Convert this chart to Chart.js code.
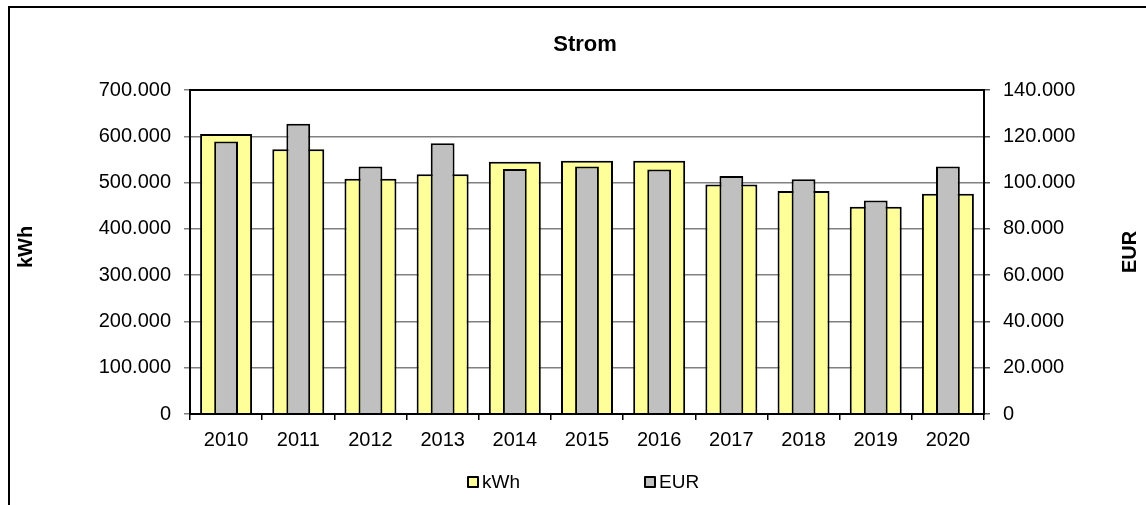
<!DOCTYPE html>
<html>
<head>
<meta charset="utf-8">
<script src="https://cdn.jsdelivr.net/npm/chart.js@4.4.1/dist/chart.umd.min.js"></script>
<style>
  body { margin: 0; background: #fff; }
  #wrap { position: relative; width: 1146px; height: 505px; overflow: hidden; }
  #frame { position: absolute; left: 8px; top: 6px; width: 1300px; height: 700px; border-top: 2px solid #000; border-left: 2px solid #000; }
  #stromChart { position: absolute; left: 0; top: 0; }
  #legend { position: absolute; left: 467px; top: 472px; display: flex; font-family: "Liberation Sans", Arial, sans-serif; font-size: 19px; color: #000; }
  .legend-item { display: flex; align-items: center; width: 177px; }
  .legend-box { box-sizing: border-box; width: 12px; height: 12px; border: 2px solid #000; border-radius: 1px; }
  .legend-text { margin-left: 3px; line-height: 20px; }
</style>
</head>
<body>
<div id="wrap">
  <div id="frame"></div>
  <canvas id="stromChart" width="1146" height="505"></canvas>
  <div id="legend"></div>
</div>
<script>
const years = ['2010', '2011', '2012', '2013', '2014', '2015', '2016', '2017', '2018', '2019', '2020'];
const kwhValues = [605000, 572000, 508000, 518000, 545000, 547000, 547000, 496000, 482000, 448000, 476000];
const eurValues = [117700, 125400, 106900, 117000, 105900, 106900, 105700, 102800, 101400, 92300, 106900];
const kwhTicks = [0, 100000, 200000, 300000, 400000, 500000, 600000, 700000];
const eurTicks = [0, 20000, 40000, 60000, 80000, 100000, 120000, 140000];
const chartTitle = 'Strom';
const kwhLabel = 'kWh';
const eurLabel = 'EUR';

const FONT = '"Liberation Sans", Arial, sans-serif';

function formatDe(v) {
  return String(v).replace(/\B(?=(\d{3})+(?!\d))/g, '.');
}

// frame round the plot area + rotated axis titles
const framePlugin = {
  id: 'plotFrame',
  afterDraw(chart) {
    const { ctx, chartArea: a } = chart;
    ctx.save();
    ctx.strokeStyle = '#000';
    ctx.lineWidth = 2;
    ctx.strokeRect(a.left, a.top, a.right - a.left, a.bottom - a.top);

    ctx.fillStyle = '#000';
    ctx.font = 'bold 20px ' + FONT;
    ctx.textAlign = 'center';
    ctx.textBaseline = 'middle';
    const midY = (a.top + a.bottom) / 2;
    [[kwhLabel, 26, midY - 5], [eurLabel, 1130, midY]].forEach(([txt, x, y]) => {
      ctx.save();
      ctx.translate(x, y);
      ctx.rotate(-Math.PI / 2);
      ctx.fillText(txt, 0, 0);
      ctx.restore();
    });
    ctx.restore();
  }
};

const tickFont = { family: FONT, size: 20 };

const stromChart = new Chart(document.getElementById('stromChart'), {
  type: 'bar',
  data: {
    labels: years,
    datasets: [
      {
        label: kwhLabel,
        data: kwhValues,
        yAxisID: 'y',
        backgroundColor: '#FFFF99',
        borderColor: '#000',
        borderWidth: 2,
        grouped: false,
        categoryPercentage: 1,
        barPercentage: 0.72,
        order: 1
      },
      {
        label: eurLabel,
        data: eurValues,
        yAxisID: 'y1',
        backgroundColor: '#C0C0C0',
        borderColor: '#000',
        borderWidth: 2,
        grouped: false,
        categoryPercentage: 1,
        barPercentage: 0.33,
        order: 0
      }
    ]
  },
  options: {
    responsive: false,
    animation: false,
    layout: { padding: { left: 24, right: 0, top: 0, bottom: 0 } },
    plugins: {
      legend: { display: false },
      tooltip: { enabled: false },
      title: {
        display: true,
        text: chartTitle,
        color: '#000',
        font: { family: FONT, size: 22, weight: 'bold' },
        padding: { top: 32, bottom: 31.6 }
      }
    },
    scales: {
      x: {
        offset: true,
        grid: { offset: true, drawOnChartArea: false, drawTicks: true, tickLength: 6, color: '#000', lineWidth: 1.5 },
        border: { color: '#000', width: 2 },
        ticks: { font: tickFont, color: '#000', padding: 8, maxRotation: 0, autoSkip: false },
        afterFit(scale) { scale.height = 91; }
      },
      y: {
        position: 'left',
        min: 0,
        max: 700000,
        afterBuildTicks(scale) { scale.ticks = kwhTicks.map(v => ({ value: v })); },
        grid: { color: '#808080', lineWidth: 1.5, tickLength: 6 },
        border: { color: '#000', width: 2 },
        ticks: { font: tickFont, color: '#000', padding: 13, callback: v => formatDe(v) },
        afterFit(scale) { scale.width = 166; }
      },
      y1: {
        position: 'right',
        min: 0,
        max: 140000,
        afterBuildTicks(scale) { scale.ticks = eurTicks.map(v => ({ value: v })); },
        grid: { drawOnChartArea: false, color: '#555', lineWidth: 1.5, tickLength: 6 },
        border: { color: '#000', width: 2 },
        ticks: { font: tickFont, color: '#000', padding: 13, callback: v => formatDe(v) },
        afterFit(scale) { scale.width = 162; }
      }
    }
  },
  plugins: [framePlugin]
});

// legend below the chart, built from the datasets
const legendEl = document.getElementById('legend');
stromChart.data.datasets.forEach(ds => {
  const item = document.createElement('div');
  item.className = 'legend-item';
  const box = document.createElement('span');
  box.className = 'legend-box';
  box.style.background = ds.backgroundColor;
  const text = document.createElement('span');
  text.className = 'legend-text';
  text.textContent = ds.label;
  item.appendChild(box);
  item.appendChild(text);
  legendEl.appendChild(item);
});
</script>
</body>
</html>
